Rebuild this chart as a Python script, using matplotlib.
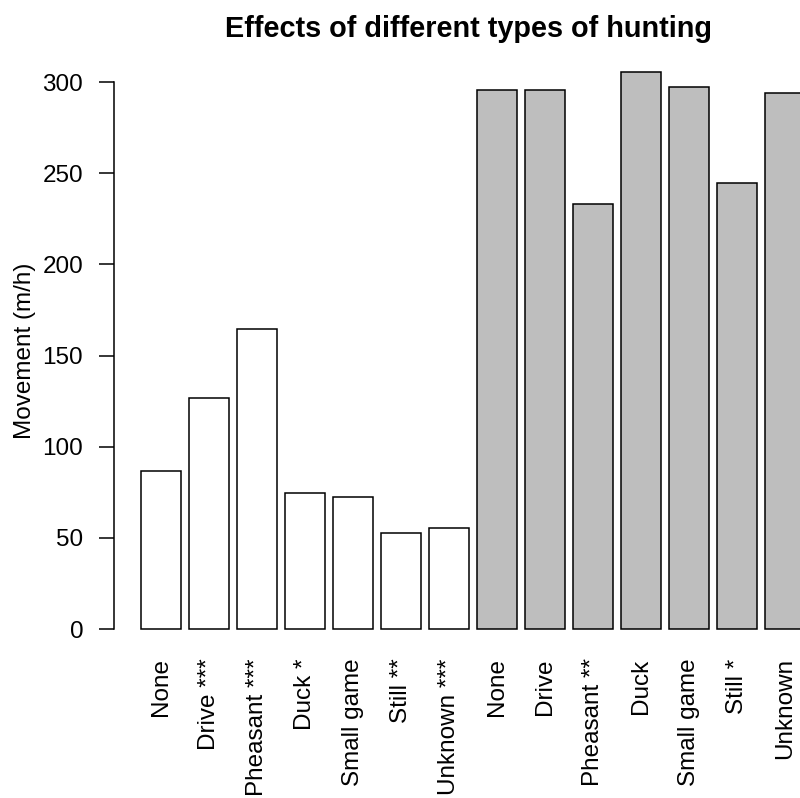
import numpy as np
import matplotlib.pyplot as plt

plt.rcParams['font.family'] = ['Liberation Sans', 'DejaVu Sans']

# first seven: one season, last seven: the other (grey)
labels = ['None', 'Drive ***', 'Pheasant ***', 'Duck *', 'Small game', 'Still **', 'Unknown ***',
          'None', 'Drive', 'Pheasant **', 'Duck', 'Small game', 'Still *', 'Unknown']
movement = [86.8, 126.9, 164.6, 74.4, 72.6, 52.8, 55.2,
            295.5, 295.5, 233.0, 305.7, 297.5, 244.7, 293.9]
fills = ['white'] * 7 + ['#bebebe'] * 7

# R barplot layout: width 1, space 0.2
x = 0.7 + 1.2 * np.arange(len(movement))

fig = plt.figure(figsize=(8, 7.98), dpi=100)
ax = fig.add_axes([0.143, 0.1838, 0.8965, 0.7542])

ax.bar(x, movement, width=1.0, color=fills, edgecolor='black', linewidth=1.1)

ax.set_xlim(-0.464, 17.464)
ax.set_ylim(-12.23, 317.9)

for s in ['top', 'right', 'bottom']:
    ax.spines[s].set_visible(False)
ax.spines['left'].set_bounds(0, 300)
ax.spines['left'].set_linewidth(1.1)

ax.set_yticks([0, 50, 100, 150, 200, 250, 300])
ax.tick_params(axis='y', length=11, width=1.1, pad=11.5, labelsize=17.5)

ax.set_xticks(x)
ax.set_xticklabels(labels, rotation=90, fontsize=17.5)
ax.tick_params(axis='x', length=0, pad=5)

ax.set_ylabel('Movement (m/h)', fontsize=17.5)
ax.yaxis.set_label_coords(-0.1094, 0.5)

fig.text(0.586, 0.964, 'Effects of different types of hunting',
         ha='center', va='center', fontsize=20.8, fontweight='bold')

fig.savefig('out.png', dpi=100)
